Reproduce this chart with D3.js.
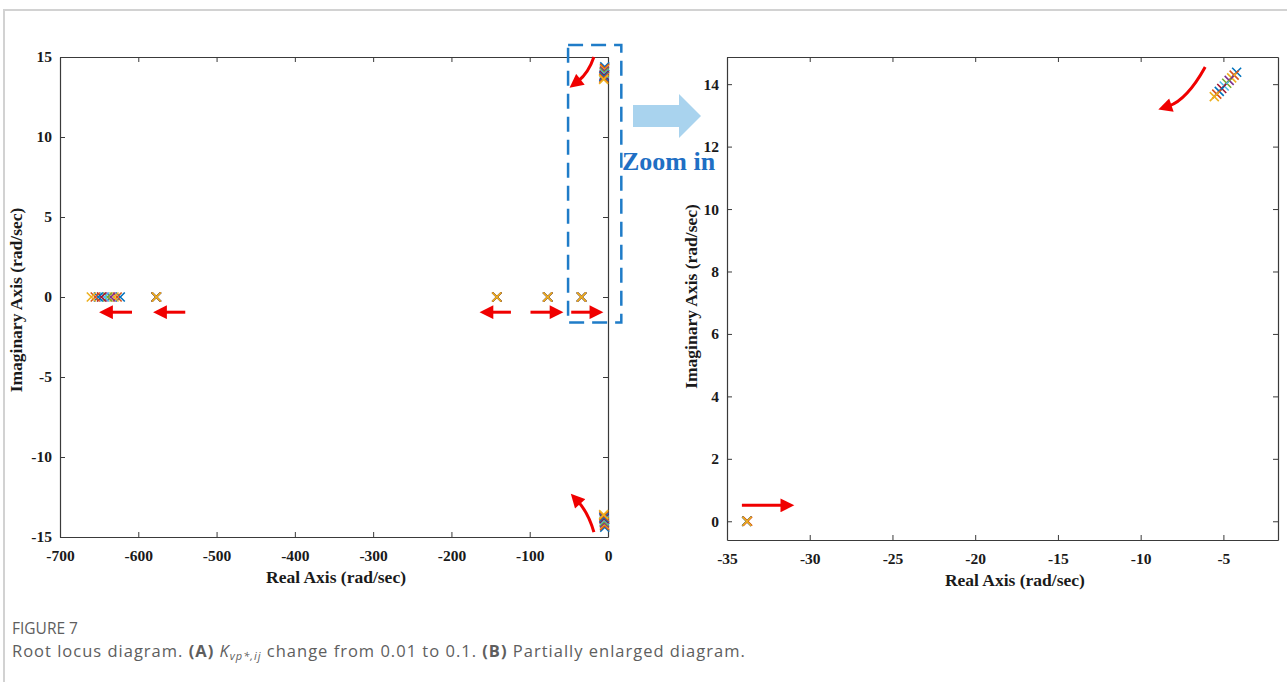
<!DOCTYPE html>
<html>
<head>
<meta charset="utf-8">
<script src="https://cdn.jsdelivr.net/npm/d3@7"></script>
<style>
  body { margin: 0; background: #fff; }
  svg { display: block; }
  .tick text { font-family: "Liberation Serif", serif; font-weight: bold; font-size: 15.5px; fill: #1a1a1a; }
  .ax-title { font-family: "Liberation Serif", serif; font-weight: bold; font-size: 17.5px; fill: #1a1a1a; }
  .caption { font-family: "Open Sans", sans-serif; fill: #5e5e5e; }
</style>
</head>
<body>
<svg id="chart" width="1287" height="682"></svg>
<script>
// gain values, one series per value (Kvp from 0.01 to 0.1)
const gains = [0.01, 0.02, 0.03, 0.04, 0.05, 0.06, 0.07, 0.08, 0.09, 0.1]
const colors = ['#0072BD', '#D95319', '#EDB120', '#7E2F8E', '#77AC30', '#4DBEEE', '#A2142F', '#0072BD', '#D95319', '#EDB120']

// poles of each series (real part, imaginary part)
const farPoleRe = [-623, -627, -631, -635, -639, -643, -647, -651, -655, -660]
const pole2Re = [-577, -577, -577, -577, -577, -577, -577, -577, -577, -577]
const pole3Re = [-142, -142, -142, -142, -142, -142, -142, -142, -142, -142]
const pole4Re = [-77, -77, -77, -77, -77, -77, -77, -77, -77, -77]
const pole5Re = [-33.8, -33.8, -33.8, -33.8, -33.8, -33.8, -33.8, -33.8, -33.75, -33.8]
const pairRe = [-4.2, -4.35, -4.5, -4.65, -4.8, -4.95, -5.1, -5.25, -5.4, -5.55]
const pairIm = [14.38, 14.29, 14.2, 14.12, 14.03, 13.94, 13.86, 13.77, 13.68, 13.6]

const leftXTicks = [-700, -600, -500, -400, -300, -200, -100, 0]
const leftYTicks = [-15, -10, -5, 0, 5, 10, 15]
const rightXTicks = [-35, -30, -25, -20, -15, -10, -5]
const rightYTicks = [0, 2, 4, 6, 8, 10, 12, 14]

const poles = []
gains.forEach((k, i) => {
    const c = colors[i]
    poles.push({re: farPoleRe[i], im: 0, c})
    poles.push({re: pole2Re[i], im: 0, c})
    poles.push({re: pole3Re[i], im: 0, c})
    poles.push({re: pole4Re[i], im: 0, c})
    poles.push({re: pole5Re[i], im: 0, c})
    poles.push({re: pairRe[i], im: pairIm[i], c})
    poles.push({re: pairRe[i], im: -pairIm[i], c})
})

const svg = d3.select('#chart')

// frame of the figure page
svg.append('path')
    .attr('d', 'M4,682 V10 H1287')
    .attr('fill', 'none')
    .attr('stroke', '#d2d2d2')
    .attr('stroke-width', 2)

svg.append('defs').append('marker')
    .attr('id', 'head')
    .attr('viewBox', '0 0 10 10')
    .attr('refX', 2).attr('refY', 5)
    .attr('markerWidth', 5).attr('markerHeight', 4.6)
    .attr('orient', 'auto')
    .append('path')
    .attr('d', 'M0,0 L10,5 L0,10 z')
    .attr('fill', '#f00000')

function drawAxes(g, x, y, xTicks, yTicks, w, h){
    const fmt = d => String(d)
    const style = sel => {
        sel.select('.domain').attr('stroke', '#3a3a3a').attr('stroke-width', 1.2)
        sel.selectAll('.tick line').attr('stroke', '#3a3a3a')
    }
    g.append('g').attr('transform', `translate(0,${h})`)
        .call(d3.axisBottom(x).tickValues(xTicks).tickSize(-5).tickSizeOuter(0).tickPadding(13).tickFormat(fmt))
        .call(style)
    g.append('g')
        .call(d3.axisTop(x).tickValues(xTicks).tickSize(-5).tickSizeOuter(0).tickFormat(''))
        .call(style)
    g.append('g')
        .call(d3.axisLeft(y).tickValues(yTicks).tickSize(-5).tickSizeOuter(0).tickPadding(8).tickFormat(fmt))
        .call(style)
    g.append('g').attr('transform', `translate(${w},0)`)
        .call(d3.axisRight(y).tickValues(yTicks).tickSize(-5).tickSizeOuter(0).tickFormat(''))
        .call(style)
    g.selectAll('.tick text').attr('font-family', null).attr('font-size', null)
}

function drawPoles(g, x, y, s){
    g.selectAll('path.pole')
        .data(poles.filter(p => x(p.re) >= -2 && x(p.re) <= x.range()[1] + 2 && y(p.im) >= -2 && y(p.im) <= y.range()[0] + 2))
        .join('path')
        .attr('class', 'pole')
        .attr('d', p => {
            const cx = x(p.re), cy = y(p.im)
            return `M${cx-s},${cy-s}L${cx+s},${cy+s}M${cx-s},${cy+s}L${cx+s},${cy-s}`
        })
        .attr('stroke', p => p.c)
        .attr('stroke-width', 1.6)
        .attr('fill', 'none')
}

function arrow(g, d){
    g.append('path')
        .attr('d', d)
        .attr('fill', 'none')
        .attr('stroke', '#f00000')
        .attr('stroke-width', 3)
        .attr('marker-end', 'url(#head)')
}

// ---- panel A ----
const A = {left: 60, top: 57, w: 548, h: 480}
const xA = d3.scaleLinear().domain([-700, 0]).range([0, A.w])
const yA = d3.scaleLinear().domain([-15, 15]).range([A.h, 0])
const gA = svg.append('g').attr('transform', `translate(${A.left},${A.top})`)
drawAxes(gA, xA, yA, leftXTicks, leftYTicks, A.w, A.h)
drawPoles(gA, xA, yA, 4.5)

// direction arrows (data coordinates)
const straightA = [[-608, -636], [-540, -567], [-124, -150], [-99, -71], [-47, -20]]
straightA.forEach(([a, b]) => arrow(gA, `M${xA(a)},${yA(-0.95)}L${xA(b)},${yA(-0.95)}`))
arrow(gA, `M${xA(-18)},${yA(15)}Q${xA(-25)},${yA(14)} ${xA(-38)},${yA(13.5)}`)
arrow(gA, `M${xA(-18)},${yA(-14.7)}Q${xA(-25)},${yA(-13.5)} ${xA(-38)},${yA(-12.8)}`)

// dashed zoom region
gA.append('rect')
    .attr('x', xA(-51)).attr('y', yA(15.75))
    .attr('width', xA(17) - xA(-51)).attr('height', yA(-1.6) - yA(15.75))
    .attr('fill', 'none')
    .attr('stroke', '#1f7cc8')
    .attr('stroke-width', 2.5)
    .attr('stroke-dasharray', '15 8')

gA.append('text').attr('class', 'ax-title')
    .attr('x', A.w / 2 + 2).attr('y', A.h + 46)
    .attr('text-anchor', 'middle')
    .text('Real Axis (rad/sec)')
gA.append('text').attr('class', 'ax-title')
    .attr('transform', `translate(-38,${A.h / 2 + 3}) rotate(-90)`)
    .attr('text-anchor', 'middle')
    .text('Imaginary Axis (rad/sec)')

// zoom arrow + label
svg.append('path')
    .attr('d', 'M633,105 H679 V94 L701,116 L679,138 V127 H633 Z')
    .attr('fill', '#a9d3ee')
svg.append('text')
    .attr('x', 622).attr('y', 170)
    .attr('font-family', 'Liberation Serif, serif')
    .attr('font-weight', 'bold')
    .attr('font-size', 26)
    .attr('fill', '#1f6fc4')
    .text('Zoom in')

// ---- panel B ----
const B = {left: 727, top: 57, w: 551, h: 483}
const xB = d3.scaleLinear().domain([-35, -1.7]).range([0, B.w])
const yB = d3.scaleLinear().domain([-0.6, 14.87]).range([B.h, 0])
const gB = svg.append('g').attr('transform', `translate(${B.left},${B.top})`)
drawAxes(gB, xB, yB, rightXTicks, rightYTicks, B.w, B.h)
drawPoles(gB, xB, yB, 4.5)

arrow(gB, `M${xB(-6.1)},${yB(14.55)}Q${xB(-7.2)},${yB(13.5)} ${xB(-8.3)},${yB(13.3)}`)
arrow(gB, `M${xB(-34.1)},${yB(0.51)}L${xB(-31.6)},${yB(0.51)}`)

gB.append('text').attr('class', 'ax-title')
    .attr('x', xB(-17.6)).attr('y', B.h + 46)
    .attr('text-anchor', 'middle')
    .text('Real Axis (rad/sec)')
gB.append('text').attr('class', 'ax-title')
    .attr('transform', `translate(-30,${yB(7.2)}) rotate(-90)`)
    .attr('text-anchor', 'middle')
    .text('Imaginary Axis (rad/sec)')

// ---- caption ----
svg.append('text').attr('class', 'caption')
    .attr('x', 12).attr('y', 634)
    .attr('font-size', 15.5)
    .text('FIGURE 7')
const cap = svg.append('text').attr('class', 'caption')
    .attr('x', 12).attr('y', 657)
    .attr('font-size', 16.5)
    .attr('letter-spacing', 1)
cap.append('tspan').text('Root locus diagram. ')
cap.append('tspan').attr('font-weight', 'bold').text('(A)')
cap.append('tspan').text(' ')
cap.append('tspan').attr('font-style', 'italic').text('K')
cap.append('tspan').attr('font-style', 'italic').attr('font-size', 11).attr('dy', 3).text('vp*,ij')
cap.append('tspan').attr('dy', -3).text(' change from 0.01 to 0.1. ')
cap.append('tspan').attr('font-weight', 'bold').text('(B)')
cap.append('tspan').text(' Partially enlarged diagram.')
</script>
</body>
</html>
